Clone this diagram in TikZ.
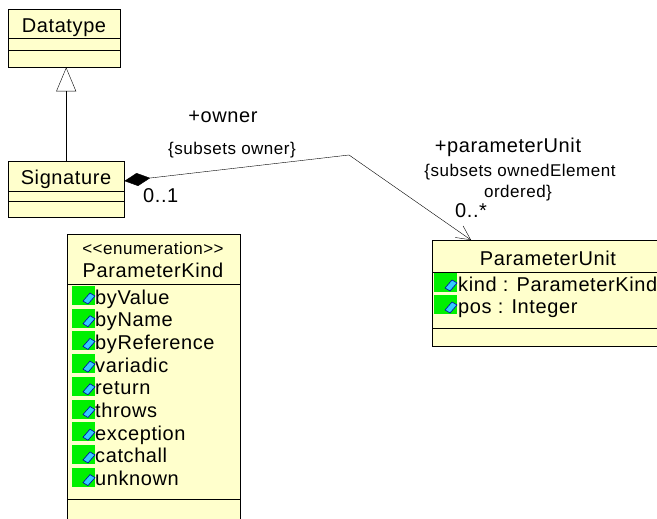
\documentclass[tikz,border=0pt]{standalone}
\usepackage{fontspec}
\setmainfont{Liberation Sans}[LetterSpace=3]
\usetikzlibrary{arrows.meta}

\definecolor{umlyellow}{RGB}{255,255,204}
\definecolor{attrgreen}{RGB}{0,240,0}
\definecolor{attrcyan}{RGB}{51,204,255}
\definecolor{attrblue}{RGB}{0,0,170}

\tikzset{
  classbox/.style={draw=black, fill=umlyellow, inner sep=0pt, anchor=north west},
  lbl/.style={font=\fontsize{20}{24}\selectfont, inner sep=0pt},
  note/.style={font=\fontsize{17}{20}\selectfont, inner sep=0pt},
}

% green attribute marker with its blue token, at (left, baseline)
\newcommand{\attrmark}[2]{%
  \fill[attrgreen] (#1,#2-18) rectangle (#1+23,#2+1);
  \draw[attrblue, fill=attrcyan, line width=0.6pt]
    (#1+11,#2-3) -- (#1+18,#2-11) -- (#1+23,#2-8) -- (#1+16,#2) -- cycle;
}

\begin{document}
\begin{tikzpicture}[x=1pt, y=-1pt]
\useasboundingbox (0,0) rectangle (657,519);
\clip (0,0) rectangle (657,519);

% Datatype
\node[classbox, minimum width=112pt, minimum height=58pt] (dt) at (8,9) {};
\draw ([yshift=-29pt]dt.north west) -- ([yshift=-29pt]dt.north east);
\draw ([yshift=-41pt]dt.north west) -- ([yshift=-41pt]dt.north east);
\node[lbl, anchor=base] (dtname) at (64,33) {Datatype};

% Signature
\node[classbox, minimum width=116pt, minimum height=56pt] (sig) at (8,161) {};
\draw ([yshift=-30pt]sig.north west) -- ([yshift=-30pt]sig.north east);
\draw ([yshift=-40pt]sig.north west) -- ([yshift=-40pt]sig.north east);
\node[lbl, anchor=base] (signame) at (66,184) {Signature};

% ParameterUnit
\node[classbox, minimum width=232pt, minimum height=106pt] (pu) at (432,240) {};
\draw ([yshift=-32pt]pu.north west) -- ([yshift=-32pt]pu.north east);
\draw ([yshift=-88pt]pu.north west) -- ([yshift=-88pt]pu.north east);
\node[lbl, anchor=base] (puname) at (548,265) {ParameterUnit};
\attrmark{434}{291}
\attrmark{434}{313}
\node[lbl, anchor=base west] (pukind) at (458,291) {kind : ParameterKind};
\node[lbl, anchor=base west] (pupos) at (458,313) {pos : Integer};

% ParameterKind
\node[classbox, minimum width=173pt, minimum height=300pt] (pk) at (67,234) {};
\draw ([yshift=-50pt]pk.north west) -- ([yshift=-50pt]pk.north east);
\draw ([yshift=-265pt]pk.north west) -- ([yshift=-265pt]pk.north east);
\node[note, anchor=base] (pkstereo) at (153,254) {{<}{<}enumeration{>}{>}};
\node[lbl, anchor=base] (pkname) at (153,277) {ParameterKind};
\foreach \lit [count=\i from 0] in {byValue,byName,byReference,variadic,return,throws,exception,catchall,unknown} {
  \attrmark{72}{304+22.7*\i}
  \node[lbl, anchor=base west] (lit\i) at (95,304+22.7*\i) {\lit};
}

% generalization
\draw[-{Triangle[open, length=24pt, width=20pt]}] (sig.north) -- (sig.north |- dt.south);

% composition
\coordinate (ownbend) at (349,155);
\draw[{Diamond[length=26pt, width=13pt]}-{Straight Barb[length=14pt, width=14pt]}]
  ([yshift=-20pt]sig.north east) -- (ownbend) -- ([xshift=39pt]pu.north west);
\node[lbl, anchor=base] (ownrole) at (223,123) {+owner};
\node[note, anchor=base] (ownnote) at (232,154) {\{subsets owner\}};
\node[lbl, anchor=base west] (ownmult) at (143,202) {0..1};
\node[lbl, anchor=base] (purole) at (508,153) {+parameterUnit};
\node[note, anchor=base] (punote1) at (520,176) {\{subsets ownedElement};
\node[note, anchor=base] (punote2) at (518,197) {ordered\}};
\node[lbl, anchor=base west] (pumult) at (455,218) {0..*};
\end{tikzpicture}
\end{document}
